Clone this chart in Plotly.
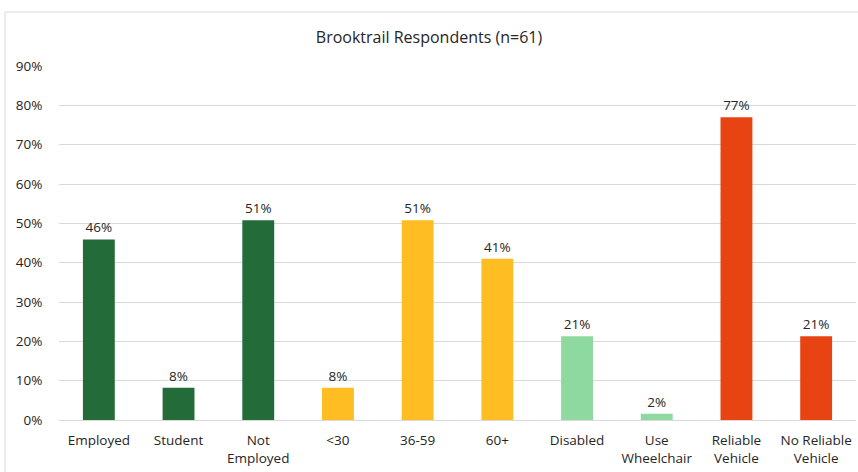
import plotly.graph_objects as go

categories = ["Employed", "Student", "Not<br>Employed", "<30", "36-59", "60+",
              "Disabled", "Use<br>Wheelchair", "Reliable<br>Vehicle", "No Reliable<br>Vehicle"]
values = [45.9, 8.2, 50.8, 8.2, 50.8, 41.0, 21.3, 1.6, 77.0, 21.3]
colors = ["#246B3A", "#246B3A", "#246B3A", "#FFBD24", "#FFBD24", "#FFBD24",
          "#8DD9A0", "#8DD9A0", "#E84413", "#E84413"]
y_ticks = [0, 10, 20, 30, 40, 50, 60, 70, 80, 90]
y_tick_labels = [f"{t}%" for t in y_ticks]

FONT = "Open Sans"

fig = go.Figure(go.Bar(
    x=categories, y=values,
    marker=dict(color=colors, line=dict(width=0)),
    text=[f"{round(v)}%" for v in values],
    textposition="outside",
    textfont=dict(family=FONT, size=13.5, color="#262626"),
    cliponaxis=False,
    width=0.4,
))

L, R, T, B = 59, 2, 66, 52
W, H = 858, 472
pw = W - L - R
ph = H - T - B

fig.update_layout(
    width=W, height=H,
    margin=dict(l=L, r=R, t=T, b=B),
    paper_bgcolor="white", plot_bgcolor="white",
    showlegend=False,
    title=dict(text="Brooktrail Respondents (n=61)", x=0.5, xanchor="center",
               y=1 - 37 / H, yanchor="middle",
               font=dict(family=FONT, size=16, color="#262626")),
    xaxis=dict(showgrid=False, showline=True, linecolor="#D9D9D9", linewidth=1,
               tickfont=dict(family=FONT, size=13.5, color="#262626"),
               ticks="outside", ticklen=8, tickcolor="rgba(0,0,0,0)", tickangle=0),
    yaxis=dict(range=[0, 90], tickvals=y_ticks, ticktext=y_tick_labels,
               showgrid=True, gridcolor="#D9D9D9", gridwidth=1,
               zeroline=False, showline=False,
               ticks="outside", ticklen=13, tickcolor="rgba(0,0,0,0)",
               tickfont=dict(family=FONT, size=13.5, color="#262626")),
    shapes=[dict(type="rect", xref="paper", yref="paper",
                 x0=(5 - L) / pw, x1=(W + 10 - L) / pw,
                 y0=-(B + 10) / ph, y1=(420 - 12) / ph,
                 line=dict(color="#D9D9D9", width=1), fillcolor="rgba(0,0,0,0)",
                 layer="below")],
)

fig.write_html("out.html")
